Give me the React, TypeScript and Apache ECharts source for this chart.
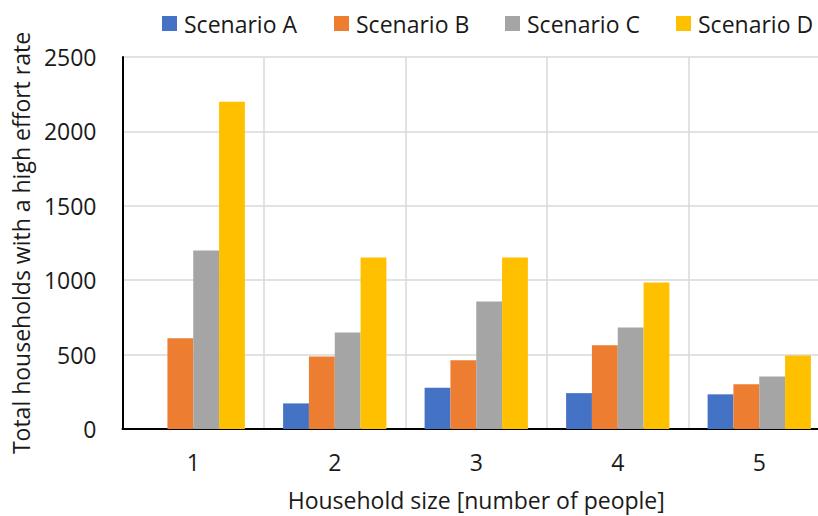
import React, { useEffect, useRef } from "react";
import * as echarts from "echarts";

const categories = ["1", "2", "3", "4", "5"];
const scenarioA = [0, 172, 278, 241, 233];
const scenarioB = [610, 487, 462, 563, 300];
const scenarioC = [1200, 648, 857, 682, 353];
const scenarioD = [2200, 1152, 1152, 985, 494];
const seriesNames = ["Scenario A", "Scenario B", "Scenario C", "Scenario D"];
const colors = ["#4472C4", "#ED7D31", "#A5A5A5", "#FFC000"];
const legendLefts = [157, 329, 500, 671];

const FONT = "Open Sans";
const TEXT = "#1a1a1a";
const FS = 23;

export default function App() {
  const ref = useRef<HTMLDivElement>(null);
  useEffect(() => {
    if (!ref.current) return;
    const chart = echarts.init(ref.current, undefined, { renderer: "svg" });
    const data = [scenarioA, scenarioB, scenarioC, scenarioD];
    chart.setOption({
      animation: false,
      textStyle: { fontFamily: FONT },
      legend: seriesNames.map((name, i) => ({
        top: 7,
        left: legendLefts[i],
        itemWidth: 15,
        itemHeight: 15,
        icon: "rect",
        textStyle: { fontSize: FS, color: TEXT, fontFamily: FONT, padding: [0, 0, 0, 2] },
        data: [name],
      })),
      grid: { left: 122.5, right: 10, top: 57, bottom: 86 },
      xAxis: {
        type: "category",
        data: categories,
        name: "Household size [number of people]",
        nameLocation: "middle",
        nameGap: 59,
        nameTextStyle: { fontSize: FS, color: TEXT, fontFamily: FONT },
        axisLine: { lineStyle: { color: "#000", width: 2 } },
        axisTick: { show: false },
        axisLabel: { fontSize: FS, color: TEXT, margin: 21, fontFamily: FONT },
        splitLine: { show: true, lineStyle: { color: "#d9d9d9", width: 1.5 } },
      },
      yAxis: {
        type: "value",
        min: 0,
        max: 2500,
        interval: 500,
        name: "Total households with a high effort rate",
        nameLocation: "middle",
        nameGap: 88,
        nameTextStyle: { fontSize: FS, color: TEXT, fontFamily: FONT },
        axisLine: { show: true, lineStyle: { color: "#000", width: 2 } },
        axisTick: { show: false },
        axisLabel: {
          fontSize: FS,
          color: TEXT,
          margin: 26,
          fontFamily: FONT,
          formatter: (v: number) => String(v),
        },
        splitLine: { show: true, lineStyle: { color: "#d9d9d9", width: 1.5 } },
      },
      series: seriesNames.map((name, i) => ({
        name,
        type: "bar",
        data: data[i],
        barGap: "0%",
        barCategoryGap: "27%",
        itemStyle: { color: colors[i] },
      })),
    });
    return () => chart.dispose();
  }, []);
  return (
    <div
      style={{
        position: "fixed",
        left: 0,
        top: 0,
        width: 818,
        height: 516,
        overflow: "hidden",
        background: "#fff",
      }}
    >
      <div ref={ref} style={{ width: 840, height: 516 }} />
    </div>
  );
}
